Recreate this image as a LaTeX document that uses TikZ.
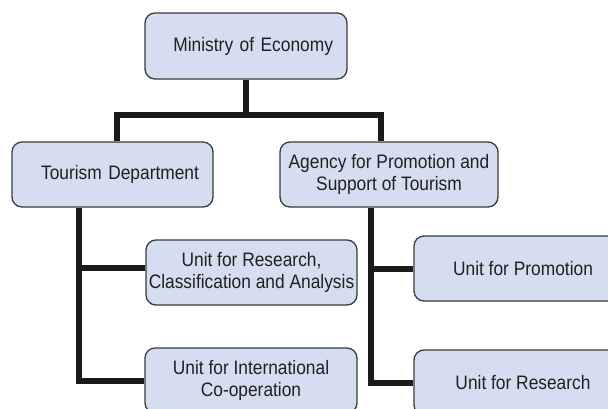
\documentclass[tikz,border=0pt]{standalone}
\usepackage{fontspec}
\setmainfont{Liberation Sans}[FakeStretch=0.89]
\definecolor{boxfill}{HTML}{D4DEF0}
\definecolor{boxline}{HTML}{3A3A3C}
\definecolor{textdark}{HTML}{231F20}
\definecolor{linkblack}{HTML}{1E1A1B}
\tikzset{
  unitbox/.style={draw=boxline, fill=boxfill, rounded corners=10pt, line width=1.3pt,
    minimum height=65pt, align=center, text=textdark, inner sep=0pt,
    font=\fontsize{19.5}{22}\selectfont},
  link/.style={line width=6pt, draw=linkblack, line join=miter}
}
\begin{document}
\begin{tikzpicture}[x=1pt, y=-1pt]
    \useasboundingbox (0,0) rectangle (608,408);
    \clip (0,0) rectangle (608,408);

    % --- livello superiore ---
    \node[unitbox, minimum width=202pt, minimum height=66pt, text width=174pt, align=right]
        (ministry) at (246,46) {Ministry of Economy};

    % --- livello intermedio ---
    \node[unitbox, minimum width=201pt, text width=173pt, align=right]
        (tourism) at (112.5,174.5) {Tourism Department};
    \node[unitbox, minimum width=218pt] (agency) at (389,174.5)
        {Agency for Promotion and\\Support of Tourism};

    % --- unita' del dipartimento ---
    \node[unitbox, minimum width=211pt] (rca) at (251.5,272.5)
        {Unit for Research,\\Classification and Analysis};
    \node[unitbox, minimum width=212pt] (intl) at (251,380.5)
        {Unit for International\\Co-operation};

    % --- unita' dell'agenzia ---
    \node[unitbox, minimum width=218pt] (promo) at (523,268.5) {Unit for Promotion};
    \node[unitbox, minimum width=218pt] (research) at (523,382.5) {Unit for Research};

    % punti di snodo delle linee
    \coordinate (barL) at (117,115);
    \coordinate (barR) at (381,115);
    \coordinate (spineL) at (79,207);
    \coordinate (spineR) at (371,207);

    % collegamenti dal ministero
    \draw[link] (ministry.south) -- (ministry.south |- barL);
    \draw[link] (tourism.north -| barL) -- (barL) -- (barR) -- (agency.north -| barR);

    % collegamenti del dipartimento
    \draw[link] (tourism.south -| spineL) |- (intl.west);
    \draw[link] (spineL |- rca.west) ++(0,-4.5) -- ([yshift=4.5pt]rca.west);

    % collegamenti dell'agenzia
    \draw[link] (agency.south -| spineR) |- (research.west);
    \draw[link] (spineR |- promo.west) -- (promo.west);
\end{tikzpicture}
\end{document}
